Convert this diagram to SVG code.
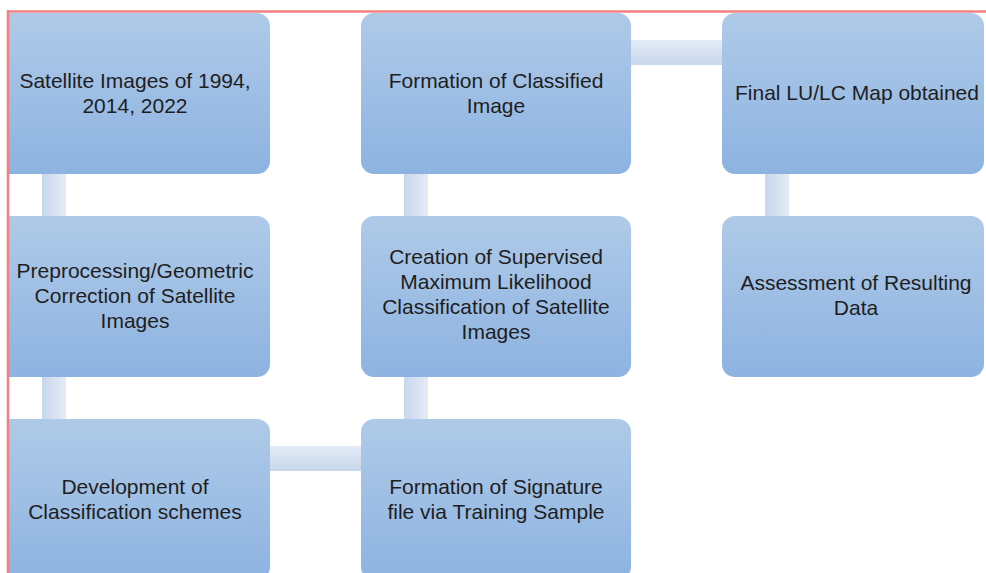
<svg xmlns="http://www.w3.org/2000/svg" width="986" height="573" viewBox="0 0 986 573">
<defs>
<linearGradient id="gBox" x1="0" y1="0" x2="0" y2="1">
<stop offset="0" stop-color="#afcae8"/>
<stop offset="1" stop-color="#8db3e1"/>
</linearGradient>
<linearGradient id="gV" x1="0" y1="0" x2="1" y2="0">
<stop offset="0" stop-color="#c8d7ec"/>
<stop offset="1" stop-color="#e3ebf6"/>
</linearGradient>
<linearGradient id="gH" x1="0" y1="0" x2="0" y2="1">
<stop offset="0" stop-color="#e3ebf6"/>
<stop offset="1" stop-color="#c8d7ec"/>
</linearGradient>
<clipPath id="clip"><rect x="9" y="12" width="977" height="561"/></clipPath>
</defs>
<style>
.box{fill:url(#gBox);}
.v{fill:url(#gV);}
.h{fill:url(#gH);}
text{font-family:"Liberation Sans",Arial,sans-serif;font-size:21px;fill:#1e1e1e;text-anchor:middle;}
</style>
<rect width="986" height="573" fill="#ffffff"/>
<g clip-path="url(#clip)">
<g id="connectors">
<rect class="v" x="42" y="170" width="24" height="50"/>
<rect class="v" x="42" y="373" width="24" height="50"/>
<rect class="h" x="266" y="446" width="99" height="25"/>
<rect class="v" x="404" y="373" width="24" height="50"/>
<rect class="v" x="404" y="170" width="24" height="50"/>
<rect class="h" x="627" y="40" width="99" height="25"/>
<rect class="v" x="765" y="170" width="24" height="50"/>
</g>
<g id="n1"><rect class="box" x="-4" y="13" width="274" height="161" rx="13"/>
<text x="135" y="88">Satellite Images of 1994,</text><text x="135" y="113">2014, 2022</text></g>
<g id="n2"><rect class="box" x="-4" y="216" width="274" height="161" rx="13"/>
<text x="135" y="278">Preprocessing/Geometric</text><text x="135" y="303">Correction of Satellite</text><text x="135" y="328">Images</text></g>
<g id="n3"><rect class="box" x="-4" y="419" width="274" height="161" rx="13"/>
<text x="135" y="494">Development of</text><text x="135" y="519">Classification schemes</text></g>
<g id="n4"><rect class="box" x="361" y="419" width="270" height="161" rx="13"/>
<text x="496" y="494">Formation of Signature</text><text x="496" y="519">file via Training Sample</text></g>
<g id="n5"><rect class="box" x="361" y="216" width="270" height="161" rx="13"/>
<text x="496" y="264">Creation of Supervised</text><text x="496" y="289">Maximum Likelihood</text><text x="496" y="314">Classification of Satellite</text><text x="496" y="339">Images</text></g>
<g id="n6"><rect class="box" x="361" y="13" width="270" height="161" rx="13"/>
<text x="496" y="88">Formation of Classified</text><text x="496" y="113">Image</text></g>
<g id="n7"><rect class="box" x="722" y="13" width="262" height="161" rx="13"/>
<text x="857" y="100">Final LU/LC Map obtained</text></g>
<g id="n8"><rect class="box" x="722" y="216" width="262" height="161" rx="13"/>
<text x="856" y="290">Assessment of Resulting</text><text x="856" y="315">Data</text></g>
</g>
<g id="frame" stroke="#f28282" stroke-width="2.5" fill="none">
<line x1="8" y1="11.5" x2="986" y2="11.5"/>
<line x1="8" y1="10" x2="8" y2="573"/>
</g>
</svg>
